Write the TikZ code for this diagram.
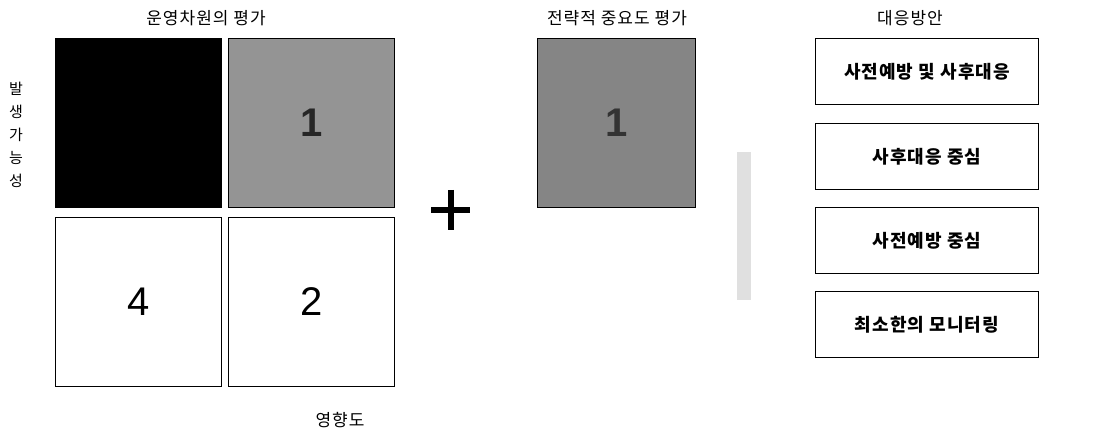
\documentclass[tikz,border=0pt]{standalone}
\usepackage{fontspec}
\setmainfont{Liberation Sans}
\newfontfamily\kr{Noto Sans CJK KR}[LetterSpace=6]
\begin{document}
\begin{tikzpicture}[x=1pt,y=-1pt,
  cell/.style={draw=black, line width=1pt, minimum width=166pt, minimum height=169pt, anchor=north west, inner sep=0pt},
  resp/.style={draw=black, line width=1pt, minimum width=223pt, minimum height=66pt, anchor=north west, inner sep=0pt, font=\kr\bfseries\fontsize{18}{22}\selectfont},
  title/.style={font=\kr\fontsize{17}{20}\selectfont, inner sep=0pt},
  big/.style={font=\fontsize{40}{44}\selectfont}
]
\useasboundingbox (0,0) rectangle (1117,433);
\node[title] (t1) at (206,18) {운영차원의 평가};
\node[title] (t2) at (617,18) {전략적 중요도 평가};
\node[title] (t3) at (910,18) {대응방안};
\node[title, align=center, font=\kr\fontsize{15}{23}\selectfont] (ylab) at (16,135) {발\\생\\가\\능\\성};
\node[title] (xlab) at (340,420) {영향도};
\node[cell, fill=black] (c11) at (55,38) {};
\node[cell, fill=black!42] (c12) at (228,38) {};
\node[cell, fill=white] (c21) at (55,217) {};
\node[cell, fill=white] (c22) at (228,217) {};
\node[big, font=\bfseries\fontsize{40}{44}\selectfont, text=black!85] (n1) at (c12.center) {1};
\node[big] (n4) at (c21.center) {4};
\node[big] (n2) at (c22.center) {2};
\draw[line width=6pt] (431,210) -- (470,210);
\draw[line width=6pt] (450.5,190) -- (450.5,230);
\node[cell, fill=black!48, minimum width=158pt] (s1) at (537,38) {};
\node[big, font=\bfseries\fontsize{40}{44}\selectfont, text=black!80] (n1b) at (s1.center) {1};
\fill[black!12] (737,152) rectangle (751,300);
\node[resp] (r1) at (815,38) {사전예방 및 사후대응};
\node[resp] (r2) at (815,123) {사후대응 중심};
\node[resp] (r3) at (815,207) {사전예방 중심};
\node[resp] (r4) at (815,291) {최소한의 모니터링};
\end{tikzpicture}
\end{document}
